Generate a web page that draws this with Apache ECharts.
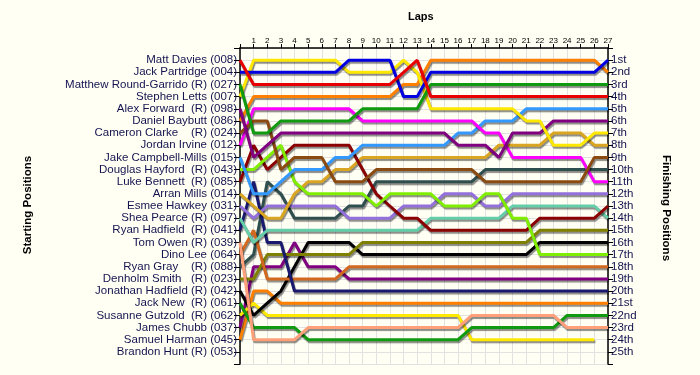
<!DOCTYPE html>
<html><head><meta charset="utf-8">
<script src="https://cdn.jsdelivr.net/npm/echarts@6/dist/echarts.min.js"></script>
<style>html,body{margin:0;padding:0;background:#FFFFF4;}#c{width:700px;height:375px;}</style>
</head><body><div id="c"></div>
<script>
const startNames = ["Matt Davies (008)","Jack Partridge (004)","Matthew Round-Garrido (R) (027)","Stephen Letts (007)","Alex Forward  (R) (098)","Daniel Baybutt (086)","Cameron Clarke    (R) (024)","Jordan Irvine (012)","Jake Campbell-Mills (015)","Douglas Hayford  (R) (043)","Luke Bennett  (R) (085)","Arran Mills (014)","Esmee Hawkey (031)","Shea Pearce (R) (097)","Ryan Hadfield  (R) (041)","Tom Owen (R) (039)","Dino Lee (064)","Ryan Gray    (R) (088)","Denholm Smith   (R) (023)","Jonathan Hadfield (R) (042)","Jack New  (R) (061)","Susanne Gutzold  (R) (062)","James Chubb (037)","Samuel Harman (045)","Brandon Hunt (R) (053)"];
const finishLabels = ["1st","2nd","3rd","4th","5th","6th","7th","8th","9th","10th","11th","12th","13th","14th","15th","16th","17th","18th","19th","20th","21st","22nd","23rd","24th","25th"];
const lapNumbers = [0,1,2,3,4,5,6,7,8,9,10,11,12,13,14,15,16,17,18,19,20,21,22,23,24,25,26,27];

// positions per lap (lap 0 = grid)
const mattDavies      = [1,3,3,3,3,3,3,3,3,3,3,3,2,1,4,4,4,4,4,4,4,4,4,4,4,4,4,4];
const jackPartridge   = [2,2,2,2,2,2,2,2,1,1,1,1,4,4,2,2,2,2,2,2,2,2,2,2,2,2,2,1];
const roundGarrido    = [3,7,7,6,6,6,6,6,6,5,5,5,5,5,3,3,3,3,3,3,3,3,3,3,3,3,3,3];
const stephenLetts    = [4,1,1,1,1,1,1,1,2,2,2,2,1,2,5,5,5,5,5,5,5,6,6,8,8,8,7,7];
const alexForward     = [5,9,8,7,7,7,7,7,7,7,7,7,7,7,7,7,8,8,8,9,7,7,7,6,6,6,6,6];
const danielBaybutt   = [6,4,4,4,4,4,4,4,4,4,4,4,3,3,1,1,1,1,1,1,1,1,1,1,1,1,1,2];
const cameronClarke   = [7,6,6,10,9,9,9,11,11,11,10,10,10,10,10,10,10,10,11,11,11,11,11,11,11,11,9,9];
const jordanIrvine    = [8,5,5,5,5,5,5,5,5,6,6,6,6,6,6,6,6,6,7,7,9,9,9,9,9,9,11,11];
const campbellMills   = [9,12,12,11,10,10,10,9,9,8,8,8,8,8,8,8,7,7,6,6,6,5,5,5,5,5,5,5];
const douglasHayford  = [10,10,9,8,11,12,12,12,12,12,13,12,12,12,12,13,13,13,12,12,14,14,17,17,17,17,17,17];
const lukeBennett     = [11,8,10,9,8,8,8,8,8,10,12,13,14,14,15,15,15,15,15,15,15,15,14,14,14,14,14,13];
const arranMills      = [12,13,14,14,12,11,11,10,10,9,9,9,9,9,9,9,9,9,9,8,8,8,8,7,7,7,8,8];
const esmeeHawkey     = [13,14,13,13,13,13,13,13,14,14,14,14,13,13,13,12,12,12,13,13,12,12,12,12,12,12,12,12];
const sheaPearce      = [14,16,15,15,15,15,15,15,15,15,15,15,15,15,14,14,14,14,14,14,13,13,13,13,13,13,13,14];
const ryanHadfield    = [15,11,16,16,20,20,20,20,20,20,20,20,20,20,20,20,20,20,20,20,20,20,20,20,20,20,20,20];
const tomOwen         = [16,24,24,24,24,23,23,23,23,23,23,23,23,23,23,23,23,22,22,22,22,22,22,22,23,23,23,23];
const dinoLee         = [17,15,19,19,19,19,19,19,18,18,18,18,18,18,18,18,18,18,18,18,18,18,18,18,18,18,18,18];
const ryanGray        = [18,17,11,12,14,14,14,14,13,13,11,11,11,11,11,11,11,11,10,10,10,10,10,10,10,10,10,10];
const denholmSmith    = [19,19,17,17,17,17,17,17,17,16,16,16,16,16,16,16,16,16,16,16,16,16,15,15,15,15,15,15];
const jonathanHadfield= [20,22,21,20,18,16,16,16,16,17,17,17,17,17,17,17,17,17,17,17,17,17,16,16,16,16,16,16];
const jackNew         = [21,23,23,23,23,24,24,24,24,24,24,24,24,24,24,24,24,23,23,23,23,23,23,23,22,22,22,22];
const susanneGutzold  = [22,21,22,22,22,22,22,22,22,22,22,22,22,22,22,22,22,24,24,24,24,24,24,24,24,24,24,null];
const jamesChubb      = [23,18,18,18,16,18,18,18,19,19,19,19,19,19,19,19,19,19,19,19,19,19,19,19,19,19,19,19];
const samuelHarman    = [24,20,20,21,21,21,21,21,21,21,21,21,21,21,21,21,21,21,21,21,21,21,21,21,21,21,21,21];
const brandonHunt     = [25];

const drivers = [mattDavies,jackPartridge,roundGarrido,stephenLetts,alexForward,danielBaybutt,cameronClarke,jordanIrvine,campbellMills,douglasHayford,lukeBennett,arranMills,esmeeHawkey,sheaPearce,ryanHadfield,tomOwen,dinoLee,ryanGray,denholmSmith,jonathanHadfield,jackNew,susanneGutzold,jamesChubb,samuelHarman,brandonHunt];
const colors = ['#E80000','#0000E0','#109A10','#FFE800','#800080','#FF8000','#8B4A10','#FF00FF','#3399FF','#80EE00','#8B0000','#DAA520','#9370DB','#66CDAA','#191970','#FFA07A','#D2691E','#2F4F4F','#808000','#000000','#109A10','#FFE800','#800080','#FF8000','#888888'];

const textColor = '#141450';
const font = 'Liberation Sans';
const chart = echarts.init(document.getElementById('c'), null, {renderer:'canvas'});
const series = drivers.map((arr, i) => ({
  type: 'line',
  name: startNames[i],
  data: arr.map((p, lap) => p == null ? null : [lapNumbers[lap], p]),
  showSymbol: false,
  symbol: 'none',
  connectNulls: false,
  animation: false,
  z: 10 + (25 - i),
  lineStyle: { color: colors[i], width: 3, shadowColor: 'rgba(0,0,0,0.45)', shadowOffsetX: 1, shadowOffsetY: 2, shadowBlur: 1 }
}));

chart.setOption({
  backgroundColor: '#FFFFF4',
  animation: false,
  grid: { left: 240, right: 92, top: 48, bottom: 11 },
  xAxis: {
    type: 'value', position: 'top', min: 0, max: 27, interval: 1,
    axisLine: { show: true, lineStyle: { color: '#000', width: 1.5 } },
    axisTick: { show: true, length: 4, lineStyle: { color: '#000' } },
    axisLabel: { fontSize: 8, color: '#000', fontFamily: font, margin: 3, formatter: v => v === 0 ? '' : String(v) },
    splitLine: { show: true, lineStyle: { color: '#E2E2E2', width: 1 } }
  },
  yAxis: [
    {
      type: 'value', inverse: true, min: 0, max: 26, interval: 1, position: 'left',
      axisLine: { show: true, lineStyle: { color: '#000', width: 1.5 } },
      axisTick: { show: true, length: 6, lineStyle: { color: '#000' } },
      axisLabel: { fontSize: 11.5, color: textColor, fontFamily: font, margin: 3, formatter: v => startNames[v - 1] || '' },
      splitLine: { show: true, lineStyle: { color: '#E2E2E2', width: 1 } }
    },
    {
      type: 'value', inverse: true, min: 0, max: 26, interval: 1, position: 'right',
      axisLine: { show: true, lineStyle: { color: '#000', width: 1.5 } },
      axisTick: { show: true, length: 5, lineStyle: { color: '#000' } },
      axisLabel: { fontSize: 11.5, color: textColor, fontFamily: font, margin: 3, formatter: v => finishLabels[v - 1] || '' },
      splitLine: { show: false }
    }
  ],
  graphic: [
    { type: 'text', left: 408, top: 11, style: { text: 'Laps', font: 'bold 11px ' + font, fill: '#000' } },
    { type: 'text', x: 28, y: 205, rotation: Math.PI / 2, style: { text: 'Starting Positions', font: 'bold 11.5px ' + font, fill: '#000', align: 'center', verticalAlign: 'middle' } },
    { type: 'text', x: 666, y: 208, rotation: -Math.PI / 2, style: { text: 'Finishing Positions', font: 'bold 11.5px ' + font, fill: '#000', align: 'center', verticalAlign: 'middle' } }
  ],
  series: series
});
</script></body></html>
